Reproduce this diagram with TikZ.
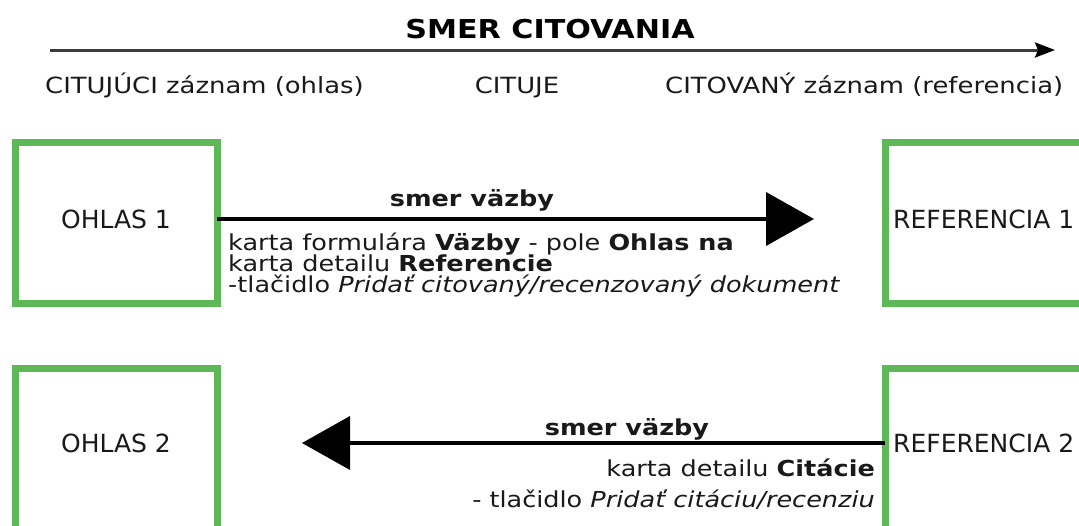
\documentclass[tikz,border=0pt]{standalone}
\usepackage{fontspec}
\setmainfont{DejaVu Sans}
\newfontfamily\widefont{DejaVu Sans}[FakeStretch=1.16]
\usetikzlibrary{arrows.meta}
\definecolor{boxgreen}{RGB}{94,184,88}
\definecolor{axisgray}{RGB}{60,60,60}
\tikzset{
  greenbox/.style={draw=boxgreen, line width=7pt, minimum width=202pt, minimum height=161pt, inner sep=0pt, outer sep=0pt},
  bigarrow/.style={line width=4pt, -{Triangle[length=48pt, width=53pt]}},
  axisarrow/.style={draw=axisgray, line width=3pt, -{Stealth[length=20pt, width=15pt, inset=3pt, color=black]}},
  lbl/.style={inner sep=0pt, font=\widefont\fontsize{22.3}{26}\selectfont, text=black!90},
  boxlbl/.style={inner sep=0pt, font=\fontsize{25}{28}\selectfont, text=black!90},
  small/.style={inner sep=0pt, font=\widefont\fontsize{22}{26}\selectfont, text=black!90},
  title/.style={inner sep=0pt, font=\widefont\fontsize{26}{30}\selectfont\bfseries},
}
\begin{document}
\begin{tikzpicture}[x=1pt, y=-1pt]
\useasboundingbox (0,0) rectangle (1079,525);
\clip (0,0) rectangle (1079,525);
\fill[white] (0,0) rectangle (1079,525);

% title and axis
\node[title, anchor=base] (ttl) at (550,38) {SMER CITOVANIA};
\coordinate (axs) at (50,50);
\coordinate (axe) at (1055,50);
\draw[axisarrow] (axs) -- (axe);

\node[lbl, anchor=base west] (l1) at (45,93) {CITUJÚCI záznam (ohlas)};
\node[lbl, anchor=base] (l2) at (517,93) {CITUJE};
\node[lbl, anchor=base west] (l3) at (665,93) {CITOVANÝ záznam (referencia)};

% boxes
\node[greenbox] (o1) at (116,223) {};
\node[greenbox] (r1) at (986,223) {};
\node[greenbox] (o2) at (116,448.5) {};
\node[greenbox] (r2) at (986,448.5) {};

\node[boxlbl, anchor=base] (o1t) at (116,228) {OHLAS 1};
\node[boxlbl, anchor=base west] (r1t) at (893,228) {REFERENCIA 1};
\node[boxlbl, anchor=base] (o2t) at (116,452) {OHLAS 2};
\node[boxlbl, anchor=base west] (r2t) at (893,452) {REFERENCIA 2};

% arrow 1
\coordinate (t1) at (814,219);
\draw[bigarrow] (o1.east |- t1) -- (t1);
\node[small, anchor=base] (s1) at (472,206) {\textbf{smer väzby}};
\node[small, anchor=base west] (a1) at (228,250) {karta formulára \textbf{Väzby} - pole \textbf{Ohlas na}};
\node[small, anchor=base west] (a2) at (228,271) {karta detailu \textbf{Referencie}};
\node[small, anchor=base west] (a3) at (228,292) {-tlačidlo \textit{Pridať citovaný/recenzovaný dokument}};

% arrow 2
\coordinate (t2) at (302,443);
\draw[bigarrow] (r2.west |- t2) -- (t2);
\node[small, anchor=base] (s2) at (627,435) {\textbf{smer väzby}};
\node[small, anchor=base east] (b1) at (875,476) {karta detailu \textbf{Citácie}};
\node[small, anchor=base east] (b2) at (875,507) {- tlačidlo \textit{Pridať citáciu/recenziu}};
\end{tikzpicture}
\end{document}
